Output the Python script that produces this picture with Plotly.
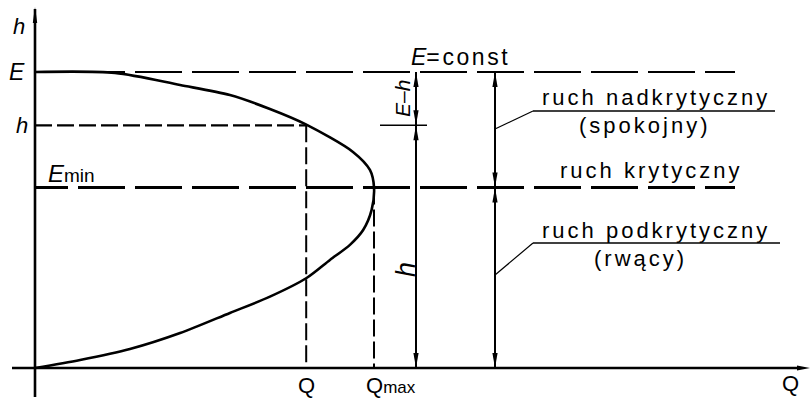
import plotly.graph_objects as go

# Q-h relation at constant specific energy E (Q scaled by Q_max, h scaled by E)
q_curve = [0.000, 0.133, 0.280, 0.428, 0.575, 0.693, 0.801, 0.870, 0.929, 0.968,
           0.993, 1.000, 0.988, 0.938, 0.799, 0.693, 0.575, 0.428, 0.236, 0.000]
h_curve = [0.000, 0.027, 0.064, 0.118, 0.186, 0.241, 0.304, 0.365, 0.416, 0.466,
           0.534, 0.611, 0.669, 0.730, 0.823, 0.875, 0.922, 0.956, 0.997, 1.000]

# characteristic levels
E_level = 1.00      # energy line E = const
h_level = 0.82      # chosen depth h
E_min = 0.61        # critical depth (E_min)
Q_level = 0.80      # discharge at depth h
Q_max = 1.00        # maximum discharge

# region descriptions
regions_upper = ["ruch nadkrytyczny", "(spokojny)"]
region_crit = "ruch krytyczny"
regions_lower = ["ruch podkrytyczny", "(rwący)"]

W, H = 810, 398
OX, OY = 35, 368          # origin on the canvas
SX, SY = 339.0, 296.0     # pixels per unit of Q and h


def px(x):
    return (x - OX) / SX


def py(y):
    return (OY - y) / SY


FONT = "Liberation Sans, Arial, sans-serif"
BLACK = "#000000"

fig = go.Figure()

fig.add_trace(go.Scatter(
    x=q_curve, y=h_curve, mode="lines",
    line=dict(color=BLACK, width=2.6, shape="spline", smoothing=0.8),
    hoverinfo="skip", showlegend=False,
))

shapes = []


def seg(x0, y0, x1, y1, width=2.0, dash="solid"):
    shapes.append(dict(type="line", xref="x", yref="y", x0=x0, y0=y0, x1=x1, y1=y1,
                       line=dict(color=BLACK, width=width, dash=dash), layer="above"))


def arrow_v(x, y_tip, up, length=15, half=2.6):
    l = length / SY * (1 if up else -1)
    w = half / SX
    path = f"M {x},{y_tip} L {x - w},{y_tip - l} L {x + w},{y_tip - l} Z"
    shapes.append(dict(type="path", xref="x", yref="y", path=path,
                       fillcolor=BLACK, line=dict(width=0), layer="above"))


def arrow_h(x_tip, y, length=13, half=2.4):
    l = length / SX
    w = half / SY
    path = f"M {x_tip},{y} L {x_tip - l},{y - w} L {x_tip - l},{y + w} Z"
    shapes.append(dict(type="path", xref="x", yref="y", path=path,
                       fillcolor=BLACK, line=dict(width=0), layer="above"))


long_dash = "33px,10px," + ",".join(["47px,10px"] * 14)
short_dash = "17px,5px"

# coordinate axes
seg(0, py(397), 0, py(9), width=2.6)
arrow_v(0, py(7), up=True, length=16, half=2.2)
seg(px(12), 0, px(800), 0, width=2.6)
arrow_h(px(810), 0)

# energy line and critical-depth line
x_end = px(735)
seg(0, E_level, x_end, E_level, width=2.2, dash=long_dash)
seg(0, E_min, x_end, E_min, width=3.0, dash=long_dash)

# depth h and the discharges Q, Q_max
seg(0, h_level, Q_level, h_level, width=2.2, dash=short_dash)
seg(Q_level, h_level, Q_level, 0, width=2.0, dash=short_dash)
seg(Q_max, E_min, Q_max, 0, width=2.0, dash=short_dash)

# dimension line: E-h and h
xd1 = px(416)
seg(xd1, 0, xd1, E_level, width=2.0)
seg(px(380), h_level, px(427), h_level, width=1.6)
arrow_v(xd1, E_level, up=True)
arrow_v(xd1, h_level, up=False)
arrow_v(xd1, h_level, up=True)
arrow_v(xd1, 0, up=False)

# dimension line: flow regimes
xd2 = px(495)
seg(xd2, 0, xd2, E_level, width=2.0)
arrow_v(xd2, E_level, up=True)
arrow_v(xd2, E_min, up=False)
arrow_v(xd2, E_min, up=True)
arrow_v(xd2, 0, up=False)

# leaders with underlines for the regime names
seg(xd2, py(129), px(533), py(111), width=1.2)
seg(px(533), py(111), px(775), py(111), width=1.6)
seg(xd2, py(275), px(533), py(243), width=1.2)
seg(px(533), py(243), px(780), py(243), width=1.6)

annotations = []


def label(text, x, y, size=21, xanchor="center", yanchor="middle", angle=0):
    annotations.append(dict(text=text, x=x, y=y, xref="x", yref="y", showarrow=False,
                            xanchor=xanchor, yanchor=yanchor, textangle=angle,
                            font=dict(family=FONT, size=size, color=BLACK)))


def spaced(t, sp=3.0):
    return f"<span style='letter-spacing:{sp}px'>{t}</span>"


label("<i>h</i>", px(19), py(26), size=22)
label("<i>E</i>", px(17), E_level, size=23)
label("<i>h</i>", px(22), h_level, size=22)
label("<i>E</i><span style='font-size:19px'>min</span>", px(46), py(173),
      size=24, xanchor="left")
label("<i>E</i>" + spaced("=const", 2.6), px(460), py(57), size=23)
label("<i>E</i>–<i>h</i>", px(402), py(99), size=21, angle=-90)
label("<i>h</i>", px(406), py(270), size=27, angle=-90)
label("Q", Q_level, py(385), size=22)
label("Q<span style='font-size:17px'>max</span>", px(364), py(385), size=22,
      xanchor="left")
label("Q", px(790), py(383), size=22)

label(spaced(regions_upper[0]), px(656), py(97), size=22)
label(spaced(regions_upper[1]), px(644), py(125), size=22)
label(spaced(region_crit), px(651), py(170), size=22)
label(spaced(regions_lower[0]), px(656), py(230), size=22)
label(spaced(regions_lower[1]), px(640), py(258), size=22)

fig.update_layout(
    width=W, height=H,
    margin=dict(l=0, r=0, t=0, b=0),
    paper_bgcolor="white", plot_bgcolor="white",
    xaxis=dict(range=[px(0), px(W)], visible=False, fixedrange=True),
    yaxis=dict(range=[py(H), py(0)], visible=False, fixedrange=True),
    shapes=shapes, annotations=annotations, showlegend=False,
)

fig.write_html("out.html")
